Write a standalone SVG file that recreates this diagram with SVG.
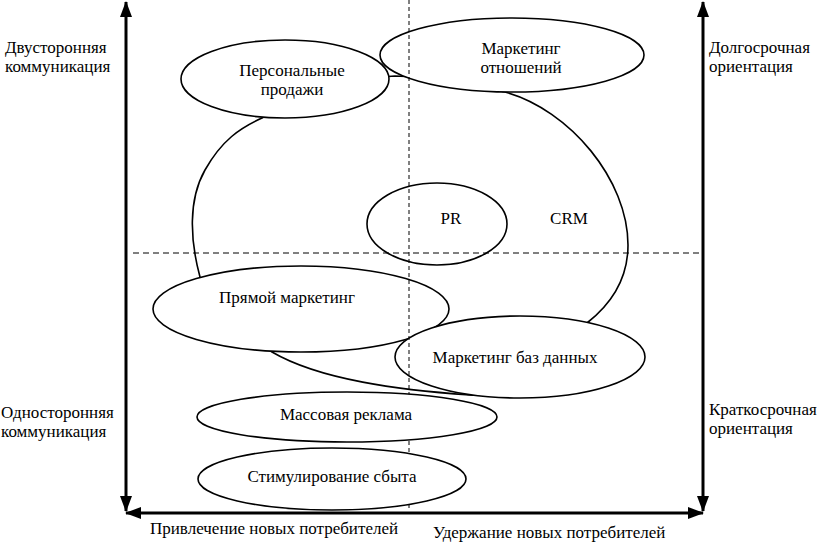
<svg xmlns="http://www.w3.org/2000/svg" width="821" height="543" viewBox="0 0 821 543">
<style>
text{font-family:'Liberation Serif','Times New Roman',serif;font-size:17px;fill:#000}
.m{text-anchor:middle}
.e{fill:#fff;stroke:#000;stroke-width:1.6}
.ax{stroke:#000;stroke-width:3;fill:none}
.d{stroke:#000;stroke-width:1;fill:none}
</style>
<defs>
<marker id="ah" markerUnits="userSpaceOnUse" markerWidth="16" markerHeight="12" refX="15" refY="6" orient="auto-start-reverse">
<path d="M0,0 L16,6 L0,12 z" fill="#000"/>
</marker>
</defs>
<rect width="821" height="543" fill="#fff"/>
<g id="crm-area">
<path class="e" d="M395,76 C450,78 480,86 505,92 C570,110 628,180 628,245 C628,280 610,305 587,323 C560,360 520,398 470,395 C400,390 320,380 272,352 C240,330 205,310 200,277 C190,240 188,200 205,170 C222,140 240,128 262,118 C300,95 350,78 395,76 Z"/>
<text class="m" x="569" y="224">CRM</text>
</g>
<g id="personal">
<ellipse class="e" cx="285" cy="79" rx="104" ry="39"/>
<text class="m" x="292" y="76">Персональные</text>
<text class="m" x="292" y="95">продажи</text>
</g>
<g id="relations">
<ellipse class="e" cx="512" cy="55" rx="132" ry="37"/>
<text class="m" x="521" y="54">Маркетинг</text>
<text class="m" x="521" y="73">отношений</text>
</g>
<g id="direct">
<ellipse class="e" cx="301" cy="309" rx="148" ry="43"/>
<text class="m" x="287" y="303">Прямой маркетинг</text>
</g>
<g id="database">
<ellipse class="e" cx="520" cy="357" rx="125" ry="41"/>
<text class="m" x="515" y="363">Маркетинг баз данных</text>
</g>
<g id="pr">
<ellipse class="e" cx="437" cy="224" rx="70" ry="41"/>
<text class="m" x="451" y="224">PR</text>
</g>
<g id="connectors">
<line class="d" x1="409" y1="0" x2="409" y2="510" stroke-dasharray="4,3"/>
<line class="d" x1="133" y1="253" x2="700" y2="253" stroke-dasharray="6,4"/>
</g>
<g id="mass">
<ellipse class="e" cx="347" cy="417" rx="150" ry="25"/>
<text class="m" x="346" y="420">Массовая реклама</text>
</g>
<g id="promo">
<ellipse class="e" cx="332" cy="479" rx="134" ry="31"/>
<text class="m" x="332" y="482">Стимулирование сбыта</text>
</g>
<g id="axes">
<line class="ax" x1="126" y1="256" x2="126" y2="2" marker-end="url(#ah)"/>
<line class="ax" x1="126" y1="256" x2="126" y2="511" marker-end="url(#ah)"/>
<line class="ax" x1="703" y1="256" x2="703" y2="2" marker-end="url(#ah)"/>
<line class="ax" x1="703" y1="256" x2="703" y2="511" marker-end="url(#ah)"/>
<line class="ax" x1="126" y1="513" x2="703" y2="513" marker-start="url(#ah)" marker-end="url(#ah)"/>
</g>
<g id="labels">
<text x="5" y="53">Двусторонняя</text>
<text x="5" y="72">коммуникация</text>
<text x="1" y="418">Односторонняя</text>
<text x="1" y="437">коммуникация</text>
<text x="709" y="53">Долгосрочная</text>
<text x="709" y="72">ориентация</text>
<text x="709" y="415">Краткосрочная</text>
<text x="709" y="434">ориентация</text>
<text x="150" y="534">Привлечение новых потребителей</text>
<text x="433" y="538">Удержание новых потребителей</text>
</g>
</svg>
